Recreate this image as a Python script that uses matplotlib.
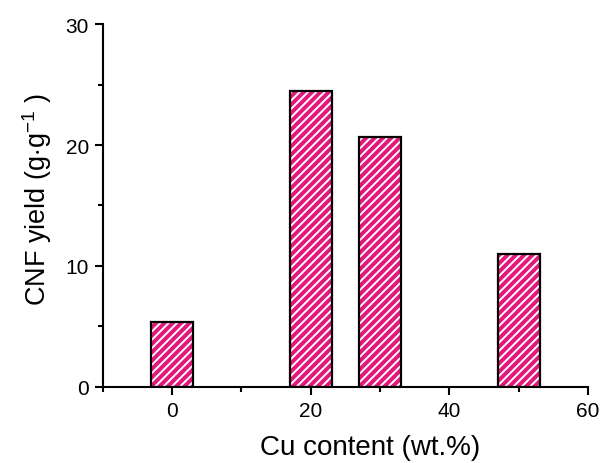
import matplotlib
matplotlib.use("Agg")
import matplotlib.pyplot as plt
from matplotlib.ticker import MultipleLocator

cu_content = [0, 20, 30, 50]
cnf_yield = [5.4, 24.5, 20.7, 11.0]
bar_width = 6

plt.rcParams['font.family'] = ['Liberation Sans', 'DejaVu Sans']
plt.rcParams['mathtext.fontset'] = 'custom'
plt.rcParams['mathtext.rm'] = 'Liberation Sans'
plt.rcParams['hatch.linewidth'] = 1.4

fig = plt.figure(figsize=(6.05, 4.64), dpi=100)
ax = fig.add_axes([0.170, 0.164, 0.802, 0.782])

# hatched fill (white stripes on pink), then black outline on top
ax.bar(cu_content, cnf_yield, width=bar_width, color="#e3187c",
       edgecolor="white", hatch="////", linewidth=0)
ax.bar(cu_content, cnf_yield, width=bar_width, fill=False,
       edgecolor="black", linewidth=1.6)

ax.set_xlim(-10, 60)
ax.set_ylim(0, 30)
ax.xaxis.set_major_locator(MultipleLocator(20))
ax.xaxis.set_minor_locator(MultipleLocator(10))
ax.yaxis.set_major_locator(MultipleLocator(10))
ax.yaxis.set_minor_locator(MultipleLocator(5))

for s in ["top", "right"]:
    ax.spines[s].set_visible(False)
for s in ["left", "bottom"]:
    ax.spines[s].set_linewidth(1.5)

ax.tick_params(which="major", direction="out", length=6, width=1.5,
               labelsize=15, pad=4)
ax.tick_params(which="minor", direction="out", length=3.5, width=1.5)

ax.set_xlabel("Cu content (wt.%)", fontsize=20, labelpad=10, x=0.55)
ax.set_ylabel(r"CNF yield (g$\cdot$g$^{\mathrm{-1}}$ )", fontsize=19.5,
              labelpad=8, y=0.52)

fig.savefig("out.png", dpi=100)
